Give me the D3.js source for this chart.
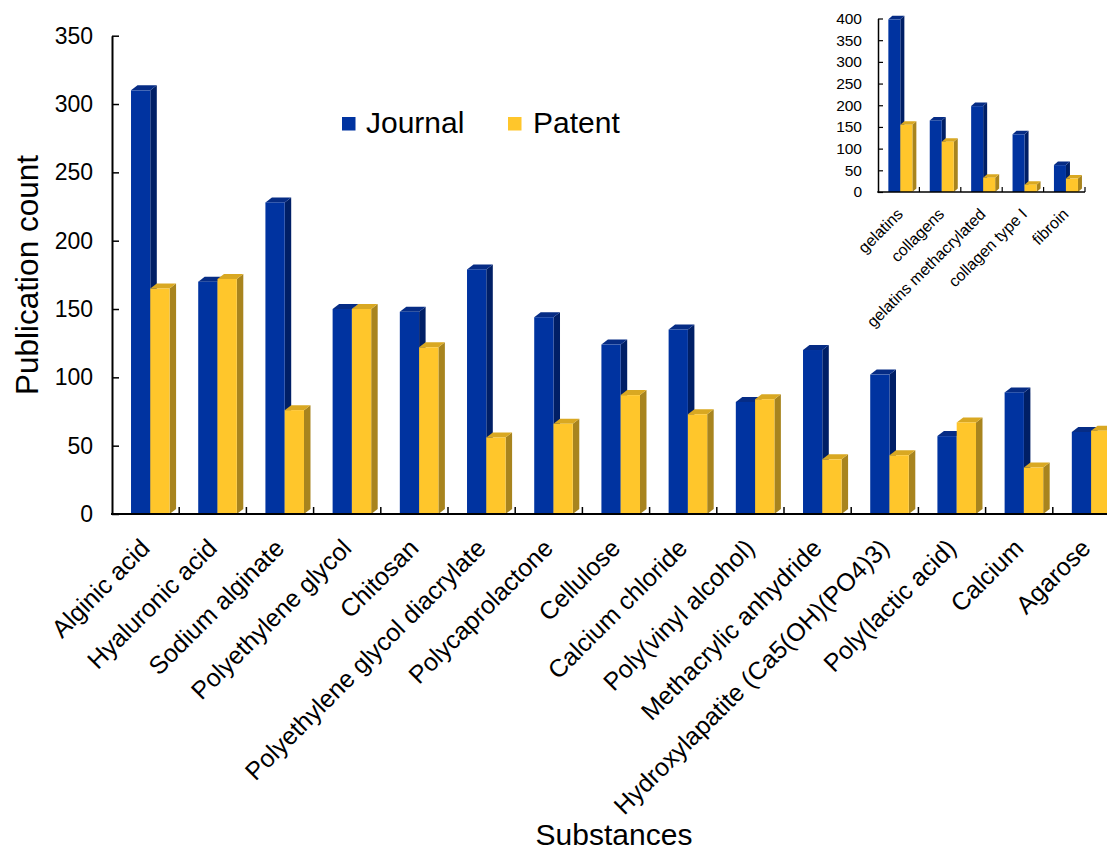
<!DOCTYPE html>
<html>
<head>
<meta charset="utf-8">
<script src="https://cdn.jsdelivr.net/npm/d3@7/dist/d3.min.js"></script>
<style>
  html, body { margin: 0; padding: 0; background: #fff; }
  svg { display: block; font-family: "Liberation Sans", Arial, sans-serif; }
</style>
</head>
<body>
<svg id="chart" width="1107" height="853"></svg>
<script>
// Main chart data
const categories = [
  "Alginic acid", "Hyaluronic acid", "Sodium alginate", "Polyethylene glycol",
  "Chitosan", "Polyethylene glycol diacrylate", "Polycaprolactone", "Cellulose",
  "Calcium chloride", "Poly(vinyl alcohol)", "Methacrylic anhydride",
  "Hydroxylapatite (Ca5(OH)(PO4)3)", "Poly(lactic acid)", "Calcium", "Agarose"
];
const journalCounts = [310, 170, 228, 150, 148, 179, 144, 124, 135, 82, 120, 102, 57, 89, 60];
const patentCounts  = [165, 172, 76, 150, 122, 56, 66, 87, 73, 84, 40, 43, 67, 34, 61];
const yTicks = [0, 50, 100, 150, 200, 250, 300, 350];

// Inset chart data
const insetCategories = ["gelatins", "collagens", "gelatins methacrylated", "collagen type I", "fibroin"];
const insetJournal = [398, 165, 198, 133, 62];
const insetPatent  = [155, 116, 33, 17, 31];
const insetTicks = [0, 50, 100, 150, 200, 250, 300, 350, 400];

const seriesNames = ["Journal", "Patent"];
const palette = {
  Journal: { front: "#0033A0", side: "#001F66", top: "#062C85" },
  Patent:  { front: "#FFC62B", side: "#A8841E", top: "#D9A822" }
};

const svg = d3.select("#chart");

// Draws a clustered 3D-looking bar chart into group g
function drawBars(g, cats, seriesVals, x, y, opt) {
  const bw = x.bandwidth();
  const w = bw * opt.widthFrac;
  const y0 = y(0);
  seriesVals.forEach((vals, si) => {
    const col = palette[seriesNames[si]];
    const bars = g.append("g").selectAll("g").data(cats.map((c, i) => ({ c, v: vals[i] })))
      .join("g");
    const left = d => x(d.c) + bw * opt.offsetFrac + si * w;
    // side face
    bars.append("path")
      .attr("fill", col.side)
      .attr("d", d => {
        const xl = left(d) + w, yt = y(d.v);
        return `M${xl},${yt} L${xl + opt.dx},${yt - opt.dy} L${xl + opt.dx},${y0 - opt.dy} L${xl},${y0} Z`;
      });
    // top face
    bars.append("path")
      .attr("fill", col.top)
      .attr("d", d => {
        const xl = left(d), yt = y(d.v);
        return `M${xl},${yt} L${xl + opt.dx},${yt - opt.dy} L${xl + w + opt.dx},${yt - opt.dy} L${xl + w},${yt} Z`;
      });
    // front face
    bars.append("rect")
      .attr("fill", col.front)
      .attr("x", d => left(d))
      .attr("y", d => y(d.v))
      .attr("width", w)
      .attr("height", d => y0 - y(d.v));
  });
}

// ---------- Main chart ----------
const main = { left: 112, top: 35.7, bottom: 514, band: 67.2 };
const x = d3.scaleBand().domain(categories)
  .range([main.left, main.left + main.band * categories.length]).padding(0);
const y = d3.scaleLinear().domain([0, 350]).range([main.bottom, main.top]);

const mainG = svg.append("g");
drawBars(mainG, categories, [journalCounts, patentCounts], x, y,
  { offsetFrac: 0.283, widthFrac: 0.287, dx: 6.5, dy: 5 });

// y axis
const yAxis = svg.append("g").attr("transform", `translate(${main.left},0)`)
  .call(d3.axisLeft(y).tickValues(yTicks).tickSizeInner(-7).tickSizeOuter(0).tickPadding(19));
yAxis.select(".domain").attr("stroke", "#000").attr("stroke-width", 2);
yAxis.selectAll(".tick line").attr("stroke", "#000").attr("stroke-width", 1.5);
yAxis.selectAll(".tick text").attr("font-size", 23).attr("fill", "#000")
  .attr("font-family", "Liberation Sans, Arial, sans-serif");

// x axis line with ticks between categories
const xAxisG = svg.append("g");
xAxisG.append("line")
  .attr("x1", main.left - 1).attr("x2", 1107).attr("y1", main.bottom).attr("y2", main.bottom)
  .attr("stroke", "#000").attr("stroke-width", 2);
xAxisG.selectAll("line.tk").data(categories).join("line")
  .attr("class", "tk")
  .attr("x1", d => x(d) + x.bandwidth()).attr("x2", d => x(d) + x.bandwidth())
  .attr("y1", main.bottom).attr("y2", main.bottom - 7)
  .attr("stroke", "#000").attr("stroke-width", 1.5);
xAxisG.selectAll("text").data(categories).join("text")
  .attr("transform", d => `translate(${x(d) + x.bandwidth() / 2 - 7},${main.bottom + 23}) rotate(-45)`)
  .attr("text-anchor", "end")
  .attr("dy", "0.72em")
  .attr("font-size", 25)
  .attr("fill", "#000")
  .text(d => d);

// axis titles
svg.append("text")
  .attr("transform", "translate(38,275) rotate(-90)")
  .attr("text-anchor", "middle")
  .attr("font-size", 31.5)
  .text("Publication count");
svg.append("text")
  .attr("x", 614).attr("y", 845)
  .attr("text-anchor", "middle")
  .attr("font-size", 30)
  .text("Substances");

// legend
const legend = svg.append("g");
const legendPos = [{ x: 342, tx: 366 }, { x: 508, tx: 533 }];
seriesNames.forEach((name, i) => {
  legend.append("rect")
    .attr("x", legendPos[i].x).attr("y", 117).attr("width", 13.5).attr("height", 13.5)
    .attr("fill", palette[name].front);
  legend.append("text")
    .attr("x", legendPos[i].tx).attr("y", 133)
    .attr("font-size", 30)
    .text(name);
});

// ---------- Inset chart ----------
const inset = { left: 878, right: 1085, top: 18.5, bottom: 192 };
const xi = d3.scaleBand().domain(insetCategories).range([inset.left, inset.right]).padding(0);
const yi = d3.scaleLinear().domain([0, 400]).range([inset.bottom, inset.top]);

const insetG = svg.append("g");
drawBars(insetG, insetCategories, [insetJournal, insetPatent], xi, yi,
  { offsetFrac: 0.25, widthFrac: 0.29, dx: 4, dy: 3.5 });

const yiAxis = svg.append("g").attr("transform", `translate(${inset.left},0)`)
  .call(d3.axisLeft(yi).tickValues(insetTicks).tickSizeInner(-5).tickSizeOuter(0).tickPadding(16));
yiAxis.select(".domain").attr("stroke", "#000").attr("stroke-width", 1.5);
yiAxis.selectAll(".tick line").attr("stroke", "#000").attr("stroke-width", 1.2);
yiAxis.selectAll(".tick text").attr("font-size", 15.5).attr("fill", "#000")
  .attr("font-family", "Liberation Sans, Arial, sans-serif");

const xiAxis = svg.append("g");
xiAxis.append("line")
  .attr("x1", inset.left - 0.75).attr("x2", inset.right).attr("y1", inset.bottom).attr("y2", inset.bottom)
  .attr("stroke", "#000").attr("stroke-width", 1.5);
xiAxis.selectAll("line.tk").data(insetCategories).join("line")
  .attr("class", "tk")
  .attr("x1", d => xi(d) + xi.bandwidth()).attr("x2", d => xi(d) + xi.bandwidth())
  .attr("y1", inset.bottom).attr("y2", inset.bottom - 5)
  .attr("stroke", "#000").attr("stroke-width", 1.2);
xiAxis.selectAll("text").data(insetCategories).join("text")
  .attr("transform", d => `translate(${xi(d) + xi.bandwidth() / 2 - 3},${inset.bottom + 15}) rotate(-45)`)
  .attr("text-anchor", "end")
  .attr("dy", "0.72em")
  .attr("font-size", 16)
  .attr("fill", "#000")
  .text(d => d);
</script>
</body>
</html>
